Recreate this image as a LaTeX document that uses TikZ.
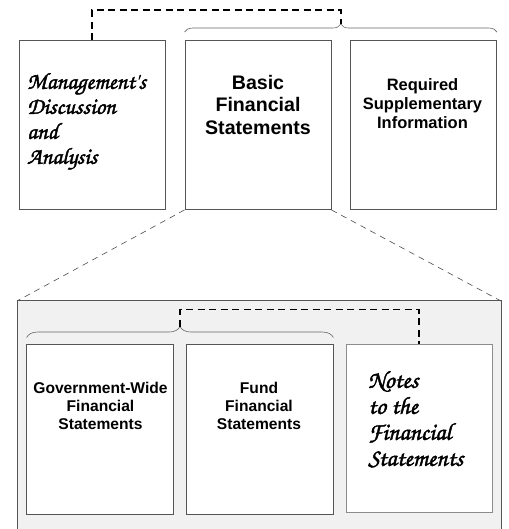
\documentclass[tikz,border=0pt]{standalone}
\usepackage{fontspec}
\setsansfont{Liberation Sans}
\newfontfamily\handfont[FakeBold=1.8]{texgyrechorus-mediumitalic.otf}
\usetikzlibrary{calc,positioning,decorations.pathreplacing}
\definecolor{paneback}{HTML}{F1F1F1}
\definecolor{edgegray}{HTML}{555555}
\tikzset{
	page/.style={draw=edgegray, fill=white, line width=0.9pt, minimum width=146pt, minimum height=169pt, inner sep=0pt},
	bold text/.style={font=\sffamily\bfseries, align=center, inner sep=0pt, anchor=north},
	hand text/.style={font=\handfont, align=left, inner sep=0pt, anchor=north west},
	link/.style={line width=1.6pt, dash pattern=on 7pt off 4.5pt},
	fan/.style={draw=black!70, line width=0.6pt, dash pattern=on 6pt off 5pt},
	curly/.style={draw=black!60, line width=0.6pt, decorate, decoration={brace, amplitude=#1}}
}

\begin{document}
\begin{tikzpicture}[x=1pt, y=1pt]
			%%%%% START %%%%%
			\useasboundingbox (0, 0) rectangle (508, 529);
			
			% top row
			\node[page] (mda) at (92, 404) {};
			\node[page] (basic) at (258, 404) {};
			\node[page] (rsi) at (423.5, 404) {};
			
			\node[hand text, font=\handfont\fontsize{23.3}{25}\selectfont] (mdatext) at (27, 456) {Management's\\Discussion\\and\\Analysis};
			\node[bold text, font=\sffamily\bfseries\fontsize{19.6}{22.5}\selectfont] (basictext) at (258, 454) {Basic\\Financial\\Statements};
			\node[bold text, font=\sffamily\bfseries\fontsize{16.5}{19}\selectfont] (rsitext) at (422.5, 451) {Required\\Supplementary\\Information};
			
			\draw[curly=8pt] ($(basic.north west)+(0, 8)$) -- ($(rsi.north east)+(0, 8)$);
			\coordinate (toptip) at ($(basic.north west)!0.5!(rsi.north east)+(0, 16)$);
			\draw[link] (mda.north) -- ++(0, 30) -| (toptip);
			
			% enlarged panel
			\coordinate (panelnw) at (17, 228);
			\coordinate (panelne) at (501, 228);
			\fill[paneback] (panelnw) rectangle (501, -2);
			\draw[edgegray, line width=1pt] (17, -2) -- (panelnw) -- (panelne) -- (501, -2);
			\draw[fan] (basic.south west) -- (panelnw);
			\draw[fan] (basic.south east) -- (panelne);
			
			\node[page, minimum width=147pt, minimum height=170pt] (gov) at (99.5, 100) {};
			\node[page, minimum width=147pt, minimum height=170pt] (fund) at (259.5, 100) {};
			\node[page, draw=black!45, line width=1pt, minimum height=168pt] (notes) at (419, 100) {};
			
			\node[bold text, font=\sffamily\bfseries\fontsize{15.6}{18}\selectfont] (govtext) at (100.5, 147) {Government-Wide\\Financial\\Statements};
			\node[bold text, font=\sffamily\bfseries\fontsize{15.6}{18}\selectfont] (fundtext) at (259, 147) {Fund\\Financial\\Statements};
			\node[hand text, font=\handfont\fontsize{24.5}{26}\selectfont] (notestext) at (368, 158) {Notes\\to the\\Financial\\Statements};
			
			\draw[curly=11pt] ($(gov.north west)+(1, 6)$) -- ($(fund.north east)+(0, 6)$);
			\coordinate (lowtip) at ($(gov.north west)!0.5!(fund.north east)+(0.5, 17)$);
			\draw[link] (lowtip) -- ++(0, 17) -| (notes.north);
			%%%%% END %%%%%
\end{tikzpicture}
\end{document}
